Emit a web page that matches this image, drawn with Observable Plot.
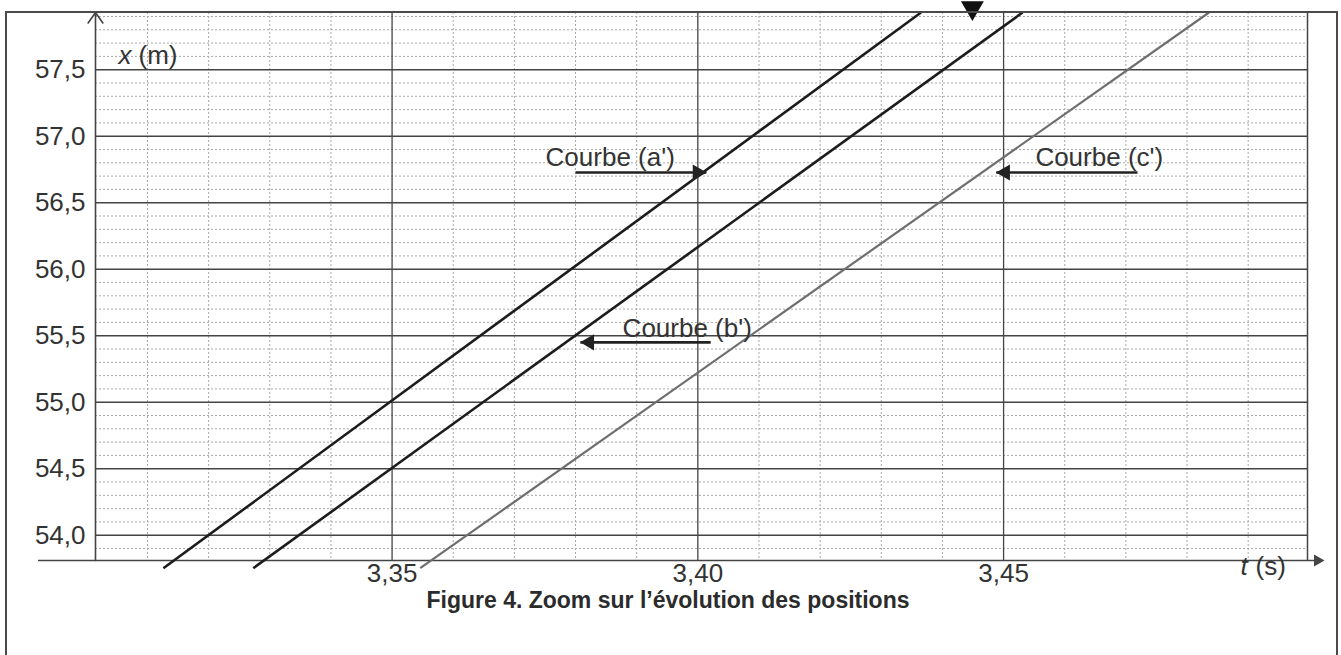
<!DOCTYPE html>
<html><head><meta charset="utf-8">
<script src="https://cdn.jsdelivr.net/npm/d3@7"></script>
<script src="https://cdn.jsdelivr.net/npm/@observablehq/plot@0.6"></script>
<style>
html,body{margin:0;padding:0;background:#fff;overflow:hidden;}
#wrap{position:relative;width:1341px;height:655px;font-family:"Liberation Sans",Arial,sans-serif;}
#chart{position:absolute;left:0;top:0;}
#frame{position:absolute;left:5px;top:11px;width:1333px;height:700px;border:2px solid #4a4a4a;border-bottom:none;box-sizing:border-box;pointer-events:none;}
#caption{position:absolute;left:0;width:1336px;top:587px;text-align:center;font-weight:bold;font-size:23px;color:#2b2b2b;}
</style></head>
<body><div id="wrap"><div id="chart"></div><div id="frame"></div><div id="caption">Figure 4. Zoom sur l’évolution des positions</div></div>
<script>
// ---- data ----
const xTicks = [3.35, 3.40, 3.45];                       // t (s)
const yTicks = [54.0, 54.5, 55.0, 55.5, 56.0, 56.5, 57.0, 57.5]; // x (m)
const tDomain = [3.3015, 3.4997];
const xDomain = [53.81, 57.93];

const curveNames = ["a'", "b'", "c'"];
const curveT0 = [3.3126, 3.3273, 3.3546];
const curveX0 = [53.752, 53.752, 53.752];
const curveT1 = [3.4365, 3.4531, 3.4836];
const curveX1 = [57.93, 57.93, 57.93];

const labels = ["Courbe (a')", "Courbe (b')", "Courbe (c')"];
const labelT = [3.3751, 3.3877, 3.4552];
const labelX = [56.84, 55.555, 56.84];
const arrowFromT = [3.3800, 3.4021, 3.4719];
const arrowToT = [3.4014, 3.3808, 3.4488];
const arrowX = [56.727, 55.45, 56.727];

const pointerT = [3.4449];
const pointerX = [57.965];

// ---- build tables ----
const curves = curveNames.map((n, i) => ({name: n, t0: curveT0[i], x0: curveX0[i], t1: curveT1[i], x1: curveX1[i]}));
const annot = labels.map((l, i) => ({label: l, lt: labelT[i], lx: labelX[i], from: arrowFromT[i], to: arrowToT[i], ax: arrowX[i]}));
const pointer = pointerT.map((t, i) => ({t, x: pointerX[i]}));

const minorT = d3.range(331, 350).map(d => d / 100).filter(t => !xTicks.some(m => Math.abs(m - t) < 1e-9));
const minorX = d3.range(539, 580).map(d => d / 10).filter(v => Math.round(v * 10) % 5 !== 0);

const loc = d3.formatLocale({decimal: ",", thousands: " ", grouping: [3], currency: ["", "€"]});
const fy = loc.format(".1f"), fx = loc.format(".2f");

const dark = "#222";
const FS = 26;
const chart = Plot.plot({
  width: 1341, height: 590,
  marginLeft: 95, marginRight: 34, marginTop: 12, marginBottom: 30,
  style: {fontFamily: '"Liberation Sans", Arial, sans-serif', fontSize: FS + "px", color: "#333", background: "transparent", overflow: "visible"},
  x: {domain: tDomain},
  y: {domain: xDomain},
  marks: [
    Plot.ruleX(minorT, {stroke: "#a8a8a8", strokeDasharray: "2,2", strokeWidth: 1}),
    Plot.ruleY(minorX, {stroke: "#a8a8a8", strokeDasharray: "2,2", strokeWidth: 1}),
    Plot.ruleY(yTicks, {stroke: "#444", strokeWidth: 1.5}),
    Plot.ruleX(xTicks, {stroke: "#444", strokeWidth: 1.3}),
    Plot.ruleX([tDomain[1]], {stroke: "#444", strokeWidth: 1.5}),
    // x axis line with arrow
    Plot.ruleY([xDomain[0]], {stroke: "#444", strokeWidth: 1.6, insetLeft: -57, insetRight: -10}),
    Plot.dot([tDomain[1]], {x: d => d, y: () => xDomain[0], dx: 10, symbol: "triangle", rotate: 90, r: 4.5, fill: "#444", stroke: "none"}),
    // y axis line with open arrow
    Plot.arrow([0], {x1: () => tDomain[0], x2: () => tDomain[0], y1: () => xDomain[0], y2: () => xDomain[1], stroke: "#444", strokeWidth: 1.6, headLength: 12, headAngle: 70}),
    Plot.axisY(yTicks, {tickSize: 0, tickPadding: 10, tickFormat: fy, fontSize: FS, label: null}),
    Plot.axisX(xTicks, {tickSize: 0, tickPadding: 3, tickFormat: fx, fontSize: FS, label: null}),
    // curves
    Plot.link(curves.filter(d => d.name !== "c'"), {x1: "t0", y1: "x0", x2: "t1", y2: "x1", stroke: "#1c1c1c", strokeWidth: 2.6}),
    Plot.link(curves.filter(d => d.name === "c'"), {x1: "t0", y1: "x0", x2: "t1", y2: "x1", stroke: "#6e6e6e", strokeWidth: 2.2}),
    // annotations
    Plot.text(annot, {x: "lt", y: "lx", text: "label", textAnchor: "start", fontSize: FS, fill: "#333"}),
    Plot.link(annot, {x1: "from", x2: "to", y1: "ax", y2: "ax", stroke: dark, strokeWidth: 2.6}),
    Plot.dot(annot.filter(d => d.to > d.from), {x: "to", y: "ax", dx: -9, symbol: "triangle", rotate: 90, r: 6, fill: dark, stroke: "none"}),
    Plot.dot(annot.filter(d => d.to < d.from), {x: "to", y: "ax", dx: 9, symbol: "triangle", rotate: -90, r: 6, fill: dark, stroke: "none"}),
    // pointer at top
    Plot.dot(pointer, {x: "t", y: "x", symbol: "triangle", rotate: 180, r: 8.5, fill: "#111", stroke: "none"}),
    // axis titles
    Plot.text(["x"], {frameAnchor: "top-left", dx: 23, dy: 33, textAnchor: "start", fontStyle: "italic", fontSize: FS, fill: "#333"}),
    Plot.text(["(m)"], {frameAnchor: "top-left", dx: 43, dy: 33, textAnchor: "start", fontSize: FS, fill: "#333"}),
    Plot.text(["t"], {frameAnchor: "bottom-right", dx: -67, dy: 14, textAnchor: "start", fontStyle: "italic", fontSize: FS, fill: "#333"}),
    Plot.text(["(s)"], {frameAnchor: "bottom-right", dx: -52, dy: 14, textAnchor: "start", fontSize: FS, fill: "#333"})
  ]
});
document.getElementById("chart").appendChild(chart);
</script></body></html>
